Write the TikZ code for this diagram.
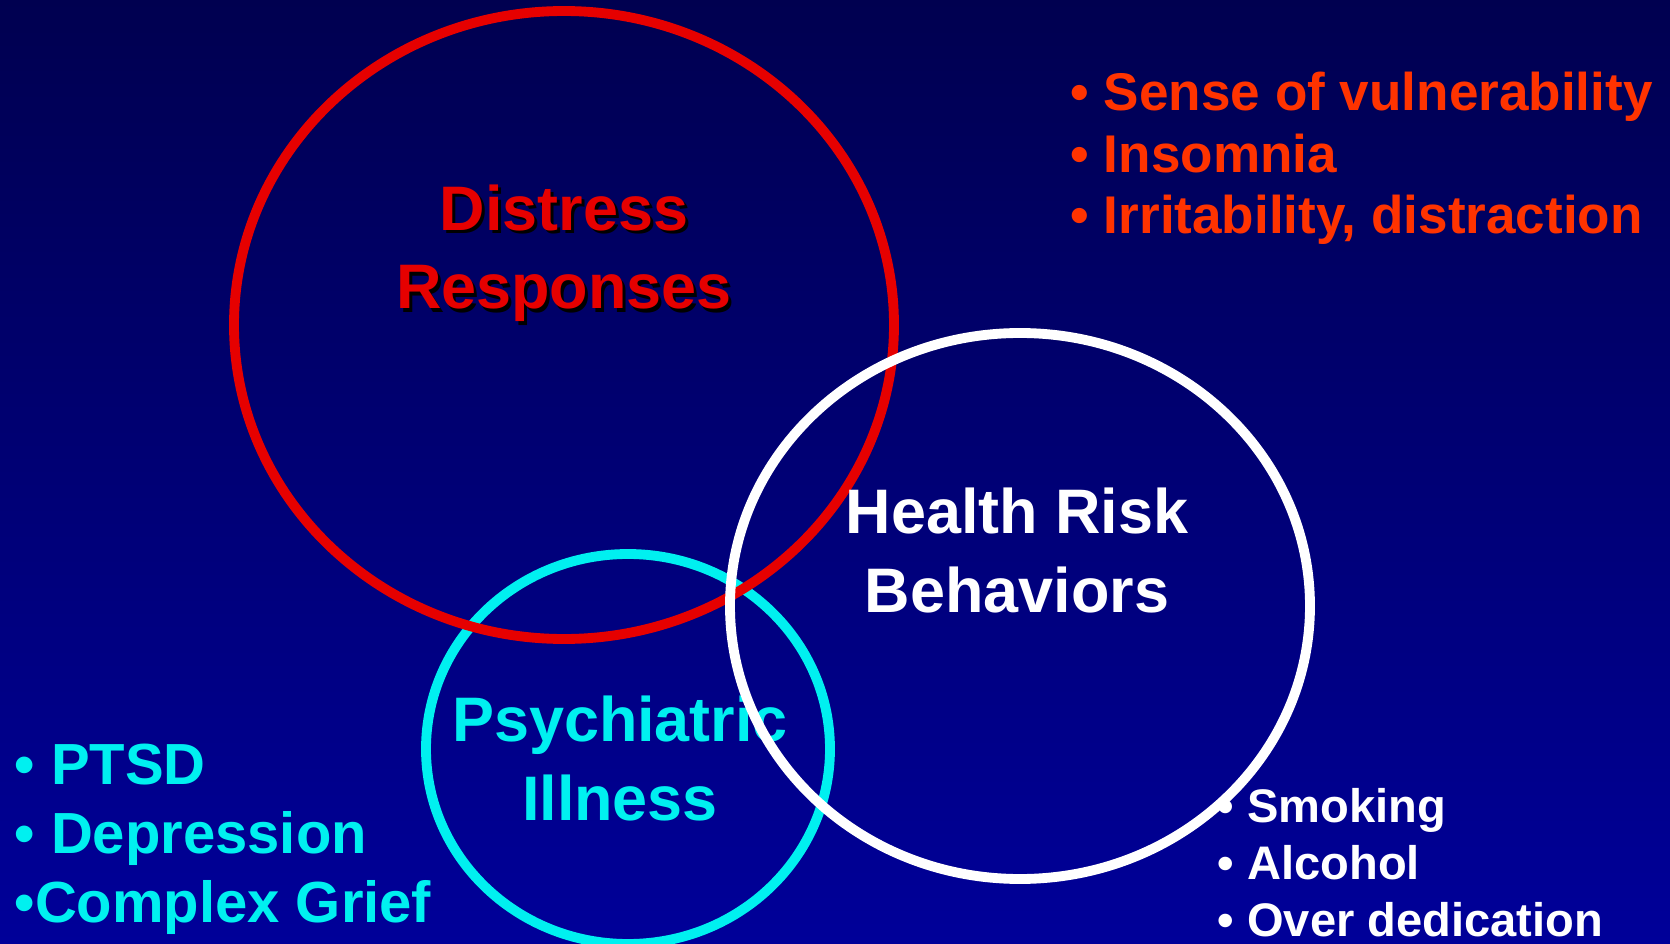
\documentclass[tikz,border=0pt]{standalone}
\usepackage{fontspec}
\setmainfont{Liberation Sans}
\usetikzlibrary{positioning}
\definecolor{navytop}{RGB}{0,0,80}
\definecolor{navybottom}{RGB}{0,0,153}
\definecolor{ringred}{RGB}{230,0,0}
\definecolor{listred}{RGB}{255,51,0}
\definecolor{ringcyan}{RGB}{0,240,240}
\tikzstyle{ring} = [line width=2.8pt]
\tikzstyle{title} = [inner sep=0pt, align=center, anchor=base, font=\bfseries\fontsize{17.9}{22.2}\selectfont]
\tikzstyle{bullets} = [inner sep=0pt, align=left, anchor=base west]

\begin{document}
\begin{tikzpicture}
  \useasboundingbox (0,0) rectangle (16.7,9.43);
  \shade[top color=navytop, bottom color=navybottom] (0,0) rectangle (16.7,9.43);
  \clip (0,0) rectangle (16.7,9.43);
  % rings
  \draw[ring, ringcyan] (6.28,1.94) ellipse [x radius=2.02, y radius=1.95];
  \draw[ring, ringred] (5.64,6.18) ellipse [x radius=3.30, y radius=3.14];
  \node[title, text=ringcyan] (psych) at (6.20,1.23) {Psychiatric\\Illness};
  \draw[ring, white] (10.20,3.37) ellipse [x radius=2.90, y radius=2.73];
  % titles
  \node[title, text=black] (distressshadow) at (5.67,6.31) {Distress\\Responses};
  \node[title, text=ringred] (distress) at (5.64,6.34) {Distress\\Responses};
  \node[title, text=white] (health) at (10.17,3.31) {Health Risk\\Behaviors};
  % lists
  \node[bullets, text=listred, font=\bfseries\fontsize{15.1}{17.6}\selectfont] (distresslist) at (10.70,7.09)
    {• Sense of vulnerability\\• Insomnia\\• Irritability, distraction};
  \node[bullets, text=ringcyan, font=\bfseries\fontsize{16.5}{19.5}\selectfont] (psychlist) at (0.14,0.21)
    {• PTSD\\• Depression\\•Complex Grief};
  \node[bullets, text=white, font=\bfseries\fontsize{13.4}{16.2}\selectfont] (healthlist) at (12.17,0.07)
    {• Smoking\\• Alcohol\\• Over dedication};
\end{tikzpicture}
\end{document}
